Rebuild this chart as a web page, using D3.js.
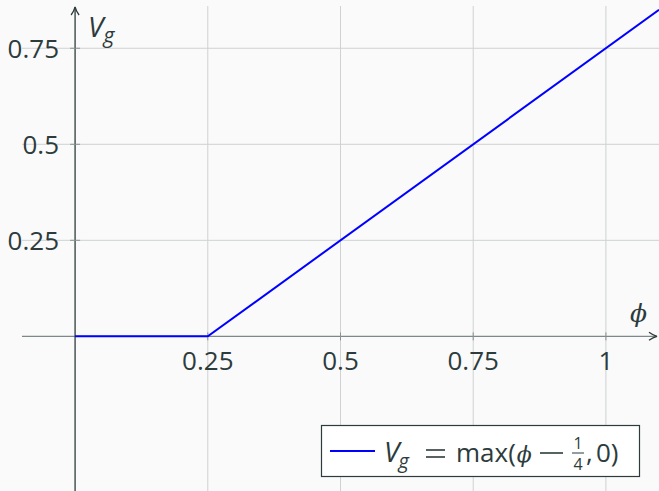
<!DOCTYPE html>
<html lang="en">
<head>
<meta charset="utf-8">
<title>Vg = max(phi - 1/4, 0)</title>
<script src="https://d3js.org/d3.v7.min.js"></script>
<style type="text/css">
  body { margin: 0; background: #fafafa; }
  svg { display: block; font-family: 'Open Sans', sans-serif; }
</style>
</head>
<body>
<div id="chart"></div>
<script>

/* Data */
/* ==== */

var phi = [0, 0.25, 1.1];
var vg = [0, 0, 0.85];
var xTicks = [0.25, 0.5, 0.75, 1];
var xTickLabels = ['0.25', '0.5', '0.75', '1'];
var yTicks = [0.25, 0.5, 0.75];
var yTickLabels = ['0.25', '0.5', '0.75'];


/* Setup */
/* ===== */

var width = 659,
    height = 491,
    ink = '#2d3b3c';

var svg = d3.select('#chart').append('svg')
  .attr('width', width)
  .attr('height', height);

svg.append('rect').attr('width', width).attr('height', height).attr('fill', '#fafafa');

var x = d3.scaleLinear().domain([-0.1, 1.1]).range([22, 659]);
var y = d3.scaleLinear().domain([-0.4, 0.86]).range([490, 6]);

// grid
svg.selectAll('line.vgrid').data(xTicks).enter().append('line')
  .attr('x1', d => x(d)).attr('x2', d => x(d))
  .attr('y1', 6).attr('y2', height)
  .attr('stroke', '#cfd2d2').attr('stroke-width', 1);

svg.selectAll('line.hgrid').data(yTicks).enter().append('line')
  .attr('x1', 22).attr('x2', width)
  .attr('y1', d => y(d)).attr('y2', d => y(d))
  .attr('stroke', '#cfd2d2').attr('stroke-width', 1);

// arrow marker
svg.append('defs').append('marker')
  .attr('id', 'arrow')
  .attr('viewBox', '0 0 10 10')
  .attr('refX', 9).attr('refY', 5)
  .attr('markerWidth', 10).attr('markerHeight', 10)
  .attr('markerUnits', 'userSpaceOnUse')
  .attr('orient', 'auto')
  .append('path')
  .attr('d', 'M1,1 Q5,4 9,5 Q5,6 1,9')
  .attr('fill', 'none')
  .attr('stroke', ink)
  .attr('stroke-width', 1.3);

// axes
svg.append('line')
  .attr('x1', 22).attr('x2', 657)
  .attr('y1', y(0)).attr('y2', y(0))
  .attr('stroke', '#7d8888').attr('stroke-width', 1.3)
  .attr('marker-end', 'url(#arrow)');

svg.append('line')
  .attr('x1', x(0)).attr('x2', x(0))
  .attr('y1', height).attr('y2', 7)
  .attr('stroke', ink).attr('stroke-width', 1.3)
  .attr('marker-end', 'url(#arrow)');

// tick marks
svg.selectAll('line.xtick').data(xTicks).enter().append('line')
  .attr('x1', d => x(d)).attr('x2', d => x(d))
  .attr('y1', y(0) - 4).attr('y2', y(0) + 4)
  .attr('stroke', '#8a9393').attr('stroke-width', 1);

svg.selectAll('line.ytick').data(yTicks).enter().append('line')
  .attr('x1', x(0) - 5).attr('x2', x(0) + 5)
  .attr('y1', d => y(d)).attr('y2', d => y(d))
  .attr('stroke', '#8a9393').attr('stroke-width', 1);

// tick labels
svg.selectAll('text.xl').data(xTicks).enter().append('text')
  .attr('x', d => x(d)).attr('y', y(0) + 34)
  .attr('text-anchor', 'middle')
  .attr('fill', ink).attr('font-size', 26)
  .text((d, i) => xTickLabels[i]);

svg.selectAll('text.yl').data(yTicks).enter().append('text')
  .attr('x', 59).attr('y', d => y(d) + 10)
  .attr('text-anchor', 'end')
  .attr('fill', ink).attr('font-size', 26)
  .text((d, i) => yTickLabels[i]);

// axis labels
var vlab = svg.append('text')
  .attr('x', 88).attr('y', 37)
  .attr('fill', ink).attr('font-size', 28).attr('font-style', 'italic');
vlab.append('tspan').text('V');
vlab.append('tspan').attr('font-size', 21).attr('dy', 6).text('g');

svg.append('text')
  .attr('x', 630).attr('y', 322)
  .attr('fill', ink).attr('font-size', 25).attr('font-style', 'italic')
  .attr('font-family', 'DejaVu Serif, serif')
  .text('\u03d5');

// function
var line = d3.line()
  .x(d => x(d[0]))
  .y(d => y(d[1]));

svg.append('path')
  .datum(d3.zip(phi, vg))
  .attr('d', line)
  .attr('fill', 'none')
  .attr('stroke', '#0000ff')
  .attr('stroke-width', 2);

// legend
var lg = svg.append('g');
lg.append('rect')
  .attr('x', 321.5).attr('y', 425.5)
  .attr('width', 318).attr('height', 51)
  .attr('fill', '#ffffff').attr('stroke', ink).attr('stroke-width', 1.2);

lg.append('line')
  .attr('x1', 330).attr('x2', 375)
  .attr('y1', 451).attr('y2', 451)
  .attr('stroke', '#0000ff').attr('stroke-width', 2);

var ty = 462;
function piece(px, str, opts) {
  var t = lg.append('text').attr('x', px).attr('y', ty + (opts.dy || 0))
    .attr('fill', ink).attr('font-size', opts.size || 26)
    .attr('font-style', opts.italic ? 'italic' : 'normal')
    .text(str);
  if (opts.family) t.attr('font-family', opts.family);
  return px + t.node().getComputedTextLength();
}

var cx = 384;
cx = piece(cx, 'V', { italic: true, size: 28 });
piece(cx - 1, 'g', { italic: true, size: 20, dy: 6 });

// "=" and "−" drawn as rules, as in math typesetting
lg.append('line').attr('x1', 426).attr('x2', 445).attr('y1', ty - 12).attr('y2', ty - 12)
  .attr('stroke', ink).attr('stroke-width', 1.6);
lg.append('line').attr('x1', 426).attr('x2', 445).attr('y1', ty - 5).attr('y2', ty - 5)
  .attr('stroke', ink).attr('stroke-width', 1.6);

cx = piece(456, 'max(', {});
piece(cx + 1, '\u03d5', { italic: true, family: 'DejaVu Serif, serif', size: 22 });

lg.append('line').attr('x1', 540).attr('x2', 563).attr('y1', ty - 9).attr('y2', ty - 9)
  .attr('stroke', ink).attr('stroke-width', 1.6);

var fx = 578;
lg.append('text').attr('x', fx).attr('y', ty - 13)
  .attr('text-anchor', 'middle').attr('fill', ink).attr('font-size', 16).text('1');
lg.append('line').attr('x1', fx - 6).attr('x2', fx + 6)
  .attr('y1', ty - 9).attr('y2', ty - 9)
  .attr('stroke', ink).attr('stroke-width', 1);
lg.append('text').attr('x', fx).attr('y', ty + 8)
  .attr('text-anchor', 'middle').attr('fill', ink).attr('font-size', 16).text('4');

piece(586, ',', {});
piece(596, '0)', {});

</script>
</body>
</html>
